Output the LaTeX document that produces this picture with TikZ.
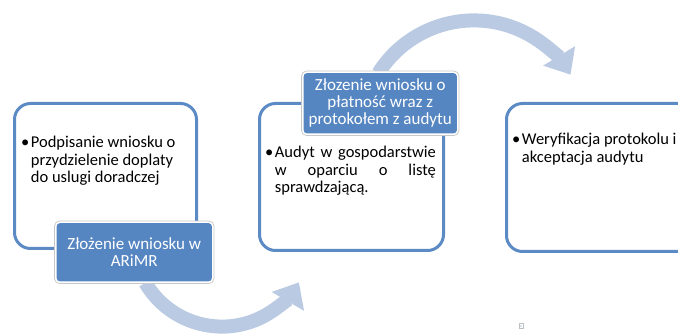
\documentclass[tikz,border=0pt]{standalone}
\usepackage{fontspec}
\setmainfont{Carlito}
\usetikzlibrary{arrows.meta,calc}
\definecolor{boxline}{HTML}{5B8AC5}
\definecolor{darkfill}{HTML}{5686C2}
\definecolor{arrowc}{HTML}{B9CAE2}
\begin{document}
\begin{tikzpicture}[x=1pt,y=1pt,
  card/.style={draw=boxline, line width=3pt, fill=white, rounded corners=16pt, anchor=south west, inner sep=0pt},
  tag/.style={fill=darkfill, draw=white, line width=1.5pt, rounded corners=4pt,
     preaction={draw=black!22, line width=3.2pt},
     text=white, align=center, font=\fontsize{17}{17}\selectfont, inner sep=0pt, anchor=south west},
  bodytext/.style={anchor=base west, inner sep=0pt, font=\fontsize{16.5}{17.5}\selectfont},
  flow/.style={draw=arrowc, line width=14pt, -{Triangle[width=36pt,length=22pt]}}
]
\useasboundingbox (0,0) rectangle (678,335);
\clip (0,0) rectangle (678,335);

% connectors (behind boxes)
\coordinate (a1s) at ($(222,97.4)+(210.5:89)$);
\coordinate (a2s) at ($(474,201.6)+(147.8:113)$);
\draw[flow] (a1s) arc[start angle=210.5, end angle=329.8, radius=89] coordinate (a1e);
\draw[flow] (a2s) arc[start angle=147.8, end angle=31.3, radius=113] coordinate (a2e);

% cards
\node[card, minimum width=182pt, minimum height=145pt] (c1) at (13,85) {};
\node[card, minimum width=184pt, minimum height=147pt] (c2) at (258,83) {};
\node[card, minimum width=190pt, minimum height=148pt] (c3) at (505,82) {};

% body texts
\node[bodytext] (t1) at (21,187) {\begin{tabular}[t]{@{}l@{\hspace{1.5pt}}l@{}}\textbullet&Podpisanie wniosku o\\&przydzielenie doplaty\\&do uslugi doradczej\end{tabular}};
\node[bodytext] (t2) at (265,177) {\begin{tabular}[t]{@{}l@{\hspace{1.5pt}}l@{}}\textbullet&\makebox[161pt][s]{Audyt w gospodarstwie}\\&\makebox[161pt][s]{w oparciu o listę}\\&sprawdzającą.\end{tabular}};
\node[bodytext] (t3) at (512,190) {\begin{tabular}[t]{@{}l@{\hspace{1.5pt}}l@{}}\textbullet&Weryfikacja protokolu i\\&akceptacja audytu\end{tabular}};

% dark tags
\node[tag, minimum width=157pt, minimum height=60pt] (g1) at (55,52) {Złożenie wniosku w\\ARiMR};
\node[tag, minimum width=155pt, minimum height=62pt] (g2) at (302,200) {Złozenie wniosku o\\płatność wraz z\\protokołem z audytu};

% small mark
\node[draw=black!25, line width=0.4pt, minimum width=4pt, minimum height=5pt, inner sep=0pt, fill=white] (mk) at (521,9) {};
\fill[boxline] (mk.center) circle (0.6pt);
\end{tikzpicture}
\end{document}
